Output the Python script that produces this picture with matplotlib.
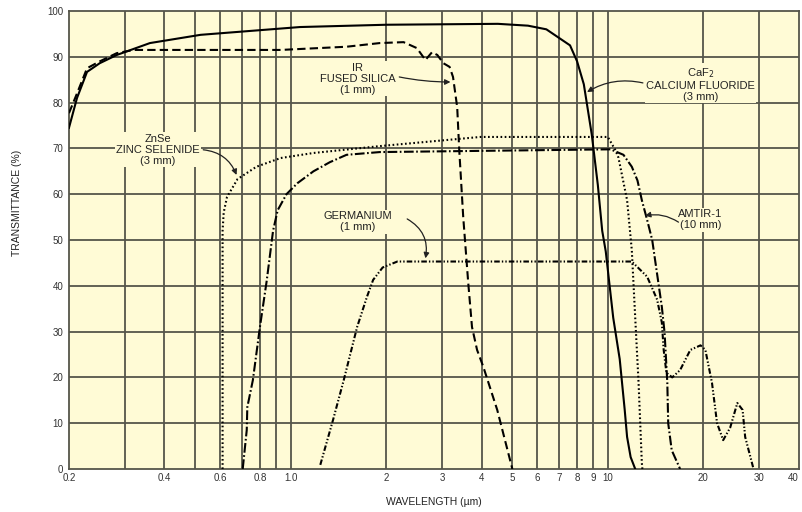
import matplotlib
matplotlib.use("Agg")
import matplotlib.pyplot as plt
from matplotlib.ticker import FixedLocator, NullLocator

plt.rcParams['font.family'] = ['Liberation Sans', 'DejaVu Sans']
plt.rcParams['lines.scale_dashes'] = False

# transmittance curves, wavelength in um, transmittance in %
caf2_wl = [0.2, 0.212, 0.228, 0.25, 0.283, 0.36, 0.52, 1.07, 2.0, 4.5, 5.6, 6.4,
           7.6, 8.0, 8.4, 8.9, 9.3, 9.6, 9.85, 10.4, 10.9, 11.3, 11.5, 11.8, 12.2]
caf2_t = [74.5, 81, 86.7, 88.6, 90.4, 93, 94.8, 96.5, 97.0, 97.2, 96.8, 96,
          92.5, 89, 84, 73, 62, 52, 47.5, 33, 24, 13, 7, 2.6, 0]

fs_wl = [0.2, 0.212, 0.228, 0.25, 0.283, 0.32, 0.5, 0.93, 1.5, 1.91, 2.27, 2.5,
         2.66, 2.79, 2.9, 3.03, 3.17, 3.25, 3.35, 3.4, 3.5, 3.63, 3.73, 3.87,
         4.05, 4.48, 5.0]
fs_t = [77.7, 82, 87.5, 89, 90.8, 91.5, 91.5, 91.5, 92.2, 93, 93.2, 91.9,
        89.3, 91, 90.4, 88.6, 87.8, 85.6, 79, 69.7, 55, 40.6, 31, 26,
        22.3, 12.9, 0]

znse_wl = [0.61, 0.61, 0.615, 0.63, 0.68, 0.78, 0.93, 1.18, 1.91, 3.96, 10.0,
           10.55, 10.8, 11.5, 11.9, 12.2, 12.5, 12.8, 12.85]
znse_t = [0, 52, 56, 59.4, 63.3, 66, 67.9, 69, 70.5, 72.5, 72.5,
          69.7, 68, 58.7, 47.8, 33, 18.8, 1.3, 0]

amtir_wl = [0.706, 0.727, 0.73, 0.76, 0.8, 0.84, 0.88, 0.91, 0.97, 1.05, 1.18,
            1.33, 1.5, 1.91, 10.2, 11.2, 11.9, 12.4, 12.8, 13.3, 13.8, 14.8,
            15.1, 15.4, 15.5, 15.9, 16.9]
amtir_t = [0, 8.5, 13.5, 19.4, 31, 41, 52, 56.5, 60, 62.4, 65,
           67, 68.6, 69.2, 69.8, 68.6, 66, 63, 58.7, 54.4, 50, 35.4,
           29.7, 18.8, 10, 4.1, 0]

ge_wl = [1.24, 1.36, 1.47, 1.62, 1.74, 1.82, 1.95, 2.17, 11.9, 13.3, 14.3,
         14.8, 15.0, 15.3, 15.96, 16.9, 18.2, 19.6, 20.3, 21.3, 22.1, 23.1,
         24.3, 25.6, 26.6, 27.1, 28.8]
ge_t = [0.9, 10.7, 19.4, 31, 37.6, 41.3, 44, 45.3, 45.3, 42, 37,
        32, 26, 21, 20, 21.6, 26, 27, 26, 18.8, 10, 6.3,
        9, 14.4, 12.9, 7, 0]

x_ticks = [0.2, 0.4, 0.6, 0.8, 1.0, 2, 3, 4, 5, 6, 7, 8, 9, 10, 20, 30, 40]
x_tick_labels = ['0.2', '0.4', '0.6', '0.8', '1.0', '2', '3', '4', '5', '6',
                 '7', '8', '9', '10', '20', '30', '40']
x_grid = [0.3, 0.4, 0.5, 0.6, 0.7, 0.8, 0.9, 1, 2, 3, 4, 5, 6, 7, 8, 9, 10, 20, 30]
y_ticks = [0, 10, 20, 30, 40, 50, 60, 70, 80, 90, 100]

bg = '#fffbd6'
grid_c = '#55554a'

fig = plt.figure(figsize=(8.02, 5.12), dpi=100)
ax = fig.add_axes([0.086, 0.084, 0.910, 0.8945])
ax.set_facecolor(bg)
ax.set_xscale('log')
ax.set_xlim(0.2, 40)
ax.set_ylim(0, 100)

for g in x_grid:
    ax.axvline(g, color=grid_c, lw=1.3, zorder=1)
for g in y_ticks[1:-1]:
    ax.axhline(g, color=grid_c, lw=1.3, zorder=1)

lw = 1.5
ax.plot(caf2_wl, caf2_t, color='black', lw=lw, zorder=3)
ax.plot(fs_wl, fs_t, color='black', lw=lw, ls=(0, (6, 3)), zorder=3)
ax.plot(znse_wl, znse_t, color='black', lw=lw, ls=(0, (1.2, 1.8)), zorder=3)
ax.plot(amtir_wl, amtir_t, color='black', lw=lw, ls=(0, (7, 1.8, 1.2, 1.8)), zorder=3)
ax.plot(ge_wl, ge_t, color='black', lw=lw, ls=(0, (4, 1.5, 1, 1.5, 1, 1.5)), zorder=3)

ax.xaxis.set_major_locator(FixedLocator(x_ticks))
ax.xaxis.set_minor_locator(NullLocator())
ax.set_xticklabels(x_tick_labels)
ax.get_xticklabels()[-1].set_ha('right')
ax.set_yticks(y_ticks)
ax.tick_params(length=0, labelsize=7, colors='#333333', pad=4)
ax.tick_params(axis='x', pad=3)
for s in ax.spines.values():
    s.set_color(grid_c)
    s.set_linewidth(1.3)

ax.set_xlabel('WAVELENGTH (µm)', fontsize=7.5, color='#222222', labelpad=10)
ax.set_ylabel('TRANSMITTANCE (%)', fontsize=7.5, color='#222222')
ax.yaxis.set_label_coords(-0.064, 0.58)

box = dict(facecolor=bg, edgecolor='none', pad=1.0)
tkw = dict(fontsize=8, ha='center', va='center', linespacing=1.15,
           color='#222222', bbox=box, zorder=4)
arr = dict(arrowstyle='-|>', color='#222222', lw=0.9, mutation_scale=8,
           shrinkA=0, shrinkB=0)

ax.text(1.63, 85.2, 'IR\nFUSED SILICA\n(1 mm)', **tkw)
ax.annotate('', xy=(3.19, 84.5), xytext=(2.2, 85.6),
            arrowprops=dict(connectionstyle='arc3,rad=0.05', **arr), zorder=5)

ax.text(19.6, 84.1, 'CaF$_2$\nCALCIUM FLUORIDE\n(3 mm)', **tkw)
ax.annotate('', xy=(8.6, 82.3), xytext=(12.9, 84.3),
            arrowprops=dict(connectionstyle='arc3,rad=0.2', **arr), zorder=5)

ax.text(0.382, 69.7, 'ZnSe\nZINC SELENIDE\n(3 mm)', **tkw)
ax.annotate('', xy=(0.675, 64.2), xytext=(0.53, 69.7),
            arrowprops=dict(connectionstyle='arc3,rad=-0.3', **arr), zorder=5)

ax.text(1.63, 54.0, 'GERMANIUM\n(1 mm)', **tkw)
ax.annotate('', xy=(2.66, 46.0), xytext=(2.33, 54.6),
            arrowprops=dict(connectionstyle='arc3,rad=-0.35', **arr), zorder=5)

ax.text(19.6, 54.4, 'AMTIR-1\n(10 mm)', **tkw)
ax.annotate('', xy=(13.1, 55.3), xytext=(16.7, 53.9),
            arrowprops=dict(connectionstyle='arc3,rad=0.2', **arr), zorder=5)

fig.savefig('out.png', dpi=100)
